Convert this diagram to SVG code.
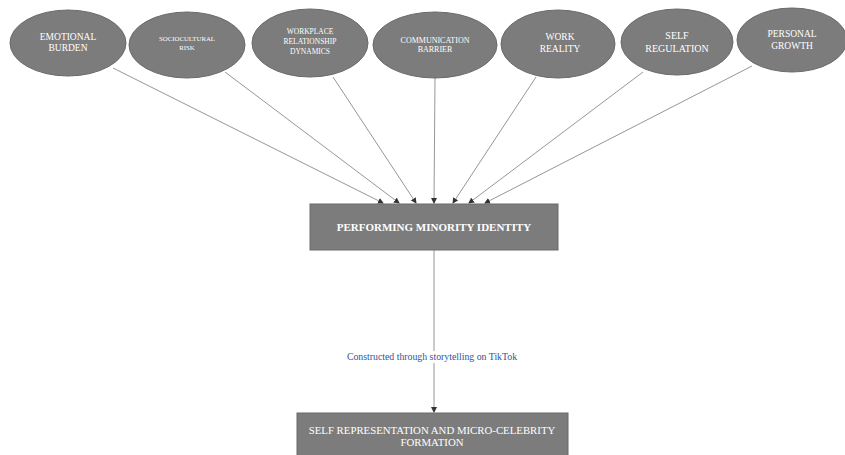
<svg xmlns="http://www.w3.org/2000/svg" width="845" height="455" viewBox="0 0 845 455">
<style>
.node{fill:#7c7c7c;stroke:#6a6a6a;stroke-width:1}
.t{fill:#ffffff;font-family:"Liberation Serif","Times New Roman",serif;text-anchor:middle}
.conn{stroke:#8a8a8a;stroke-width:0.9;fill:none;marker-end:url(#arr)}
.lbl{fill:#2f5597;font-family:"Liberation Serif","Times New Roman",serif;font-size:9.8px;text-anchor:middle}
</style>
<defs>
<marker id="arr" markerWidth="6" markerHeight="6" refX="5" refY="3" orient="auto" markerUnits="userSpaceOnUse">
<path d="M0,0 L6,3 L0,6 Z" fill="#333"/>
</marker>
</defs>
<rect width="845" height="455" fill="#ffffff"/>
<g id="connectors">
<line class="conn" x1="113" y1="68" x2="383" y2="203"/>
<line class="conn" x1="225" y1="72" x2="399" y2="203"/>
<line class="conn" x1="333" y1="77" x2="416" y2="203"/>
<line class="conn" x1="435" y1="78" x2="434" y2="203"/>
<line class="conn" x1="536" y1="77" x2="453" y2="203"/>
<line class="conn" x1="643" y1="72" x2="469" y2="203"/>
<line class="conn" x1="752" y1="66" x2="485" y2="203"/>
<line class="conn" x1="434" y1="250" x2="434" y2="412"/>
<rect x="343" y="351" width="182" height="12" fill="#ffffff"/>
<text class="lbl" x="432" y="360">Constructed through storytelling on TikTok</text>
</g>
<g id="n1"><ellipse class="node" cx="68" cy="43" rx="58" ry="33"/>
<text class="t" font-size="9.5" x="68" y="40">EMOTIONAL</text><text class="t" font-size="9.5" x="68" y="51">BURDEN</text></g>
<g id="n2"><ellipse class="node" cx="187" cy="45" rx="58" ry="33"/>
<text class="t" font-size="6.8" x="187" y="41">SOCIOCULTURAL</text><text class="t" font-size="6.8" x="187" y="50">RISK</text></g>
<g id="n3"><ellipse class="node" cx="310" cy="43" rx="58" ry="34"/>
<text class="t" font-size="7.5" x="310" y="34">WORKPLACE</text><text class="t" font-size="7.5" x="310" y="44">RELATIONSHIP</text><text class="t" font-size="7.5" x="310" y="54">DYNAMICS</text></g>
<g id="n4"><ellipse class="node" cx="435" cy="45" rx="62" ry="33"/>
<text class="t" font-size="8" x="435" y="43">COMMUNICATION</text><text class="t" font-size="8" x="435" y="52">BARRIER</text></g>
<g id="n5"><ellipse class="node" cx="558" cy="44" rx="57" ry="34"/>
<text class="t" font-size="9.5" x="560" y="40">WORK</text><text class="t" font-size="9.5" x="560" y="52">REALITY</text></g>
<g id="n6"><ellipse class="node" cx="677" cy="42" rx="56" ry="33"/>
<text class="t" font-size="10" x="677" y="39">SELF</text><text class="t" font-size="10" x="677" y="52">REGULATION</text></g>
<g id="n7"><ellipse class="node" cx="792" cy="40" rx="55" ry="32"/>
<text class="t" font-size="9.5" x="792" y="37">PERSONAL</text><text class="t" font-size="9.5" x="792" y="49">GROWTH</text></g>
<g id="n8"><rect class="node" x="310" y="204" width="248" height="46"/>
<text class="t" x="434" y="231" font-size="11" font-weight="bold">PERFORMING MINORITY IDENTITY</text></g>
<g id="n9"><rect class="node" x="297" y="413" width="271" height="44"/>
<text class="t" font-size="10.8" x="432" y="434">SELF REPRESENTATION AND MICRO-CELEBRITY</text><text class="t" font-size="10.8" x="432" y="446">FORMATION</text></g>
</svg>
